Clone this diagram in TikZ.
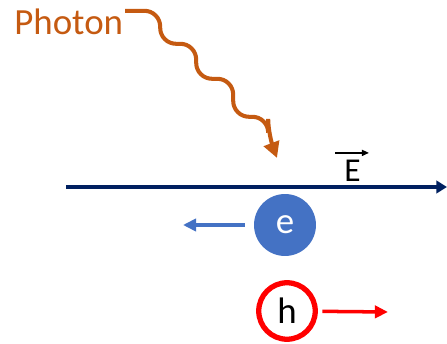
\documentclass[tikz,border=0pt]{standalone}
\usepackage{fontspec}
\setmainfont{Carlito}
\usetikzlibrary{arrows.meta,positioning}
\definecolor{photonc}{HTML}{C55A11}
\definecolor{fieldc}{HTML}{002060}
\definecolor{elecc}{HTML}{4472C4}

\begin{document}
\begin{tikzpicture}[x=0.02cm, y=-0.02cm, >=Stealth,
  particle/.style={circle, inner sep=0pt, font=\fontsize{21}{24}\selectfont},
  electron/.style={particle, fill=elecc, text=white, minimum size=1.24cm},
  hole/.style={particle, draw=red, line width=3pt, minimum size=1.13cm},
  flow/.style={line width=2pt, -{Triangle[length=7.5pt, width=7pt]}}]
  \useasboundingbox (0,0) rectangle (447,344);
  \node[anchor=base west, inner sep=0pt, text=photonc, font=\fontsize{21}{24}\selectfont] (photon) at (14,35) {Photon};
  \coordinate (hit) at (277,158);
  \draw[photonc, line width=2.3pt, rounded corners=9pt, -{Triangle[length=9pt, width=9pt]}]
    ([xshift=1pt, yshift=-1pt]photon.north east) -- ++(35,0) -- ++(0,33) -- ++(36,0) -- ++(0,35)
    -- ++(37,0) -- ++(0,38) -- ++(35,0) -- ++(0,18) -- (hit);
  % field
  \coordinate (fieldL) at (66,187);
  \coordinate (fieldR) at (447,187);
  \draw[fieldc, line width=2.6pt, -{Triangle[length=6pt, width=7pt]}] (fieldL) -- (fieldR);
  \node[inner sep=0pt, font=\fontsize{19}{22}\selectfont] (Elab) at (352.5,171) {E};
  \draw[line width=0.7pt, -{Triangle[length=4pt, width=3.5pt]}]
    ([xshift=-5pt, yshift=4pt]Elab.north west) -- ([xshift=4.5pt, yshift=4pt]Elab.north east);
  % carriers
  \node[electron] (e) at (285,225) {e};
  \coordinate (eleft) at (183,225);
  \draw[flow, elecc, shorten <=5pt] (e) -- (eleft);
  \node[hole] (h) at (287,311) {h};
  \coordinate (hright) at (388,312);
  \draw[flow, red, shorten <=2.5pt] (h) -- (hright);
\end{tikzpicture}
\end{document}
